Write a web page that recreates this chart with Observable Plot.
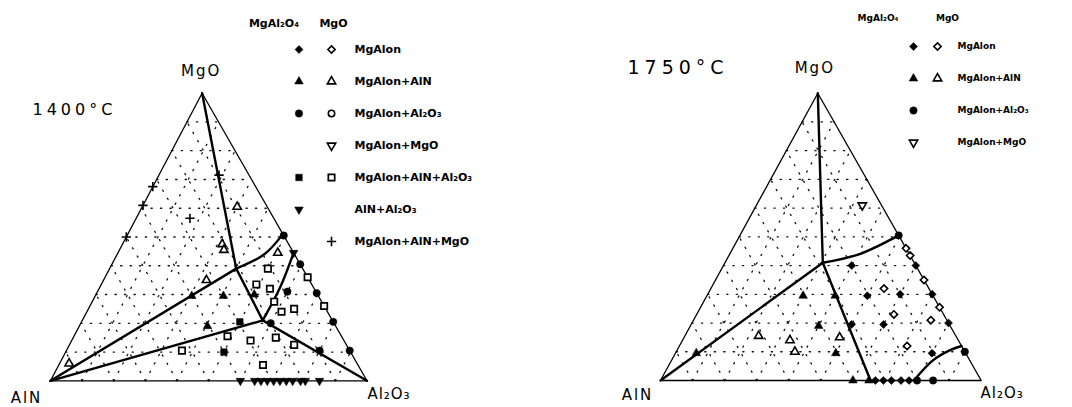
<!DOCTYPE html>
<html><head><meta charset="utf-8">
<script src="https://cdn.jsdelivr.net/npm/d3@7"></script>
<script src="https://cdn.jsdelivr.net/npm/@observablehq/plot@0.6"></script>
<style>
body{margin:0;background:#fff}
#fig{position:relative;width:1072px;height:407px;background:#fff;overflow:hidden}
#fig svg{position:absolute;left:0;top:0;background:transparent}
</style></head><body><div id="fig"></div>
<script>
// All compositions are [Al2O3 %, MgO %]; AlN is the remainder (100 - Al2O3 - MgO).
const gridSteps = [10, 20, 30, 40, 50, 60, 70, 80, 90];
const vertexNames = ["AlN", "Al₂O₃", "MgO"];

// ---------- 1400 °C ----------
const L_title = "1400°C";
const L_lines = [
  [[0, 100], [40, 39]],
  [[40, 39], [46.5, 44], [49, 51]],
  [[40, 39], [0, 0]],
  [[40, 39], [57, 21]],
  [[57, 21], [0, 0]],
  [[57, 21], [100, 0]],
  [[57, 21], [57, 32.5], [55.5, 44.5]]
];
const L_plus = [[0, 67.5], [0, 61], [0, 50], [17, 56.5], [19, 71.5]];
const L_triOpen = [[30, 60.5], [31.5, 47.5], [33, 45.5], [32.5, 35], [3, 6], [50.5, 44.5]];
const L_triFilled = [[30.5, 29.5], [40.5, 29.5], [40.5, 19], [50, 30]];
const L_sqOpen = [[50, 39], [49, 33.5], [54, 32], [57.5, 27.5], [61.5, 24], [65, 25], [48.5, 15.5], [56.5, 14], [64, 15], [71, 12.5], [36.5, 10.5], [64.5, 5.5], [64, 36], [74, 26]];
const L_sqFilled = [[50, 20.5], [50, 10]];
const L_circFilled = [[49.5, 50.5], [59.5, 40.5], [69.5, 30.5], [79.5, 20.5], [89.5, 10.5], [60, 31], [60, 20], [80, 10.5]];
const L_invFilled = [[55.5, 44.5], [60, 0], [64.5, 0], [66.5, 0], [68.5, 0], [70.5, 0], [72.5, 0], [74.5, 0], [76.5, 0], [79, 0], [80.5, 0], [85, 0]];

// ---------- 1750 °C ----------
const R_title = "1750°C";
const R_lines = [
  [[0, 100], [30.5, 41]],
  [[30.5, 41], [40.5, 44], [49.5, 50.5]],
  [[30.5, 41], [0, 0]],
  [[30.5, 41], [65.5, 0]],
  [[79, 0], [81.5, 7], [85, 10.5], [88, 12]]
];
const R_diaFilled = [[40, 40], [50, 29.5], [60, 30], [50, 19.5], [60, 19.5], [80, 9.5], [60, 40], [70, 30], [80, 20], [67, 0], [69.5, 0], [72, 0], [75, 0], [77.5, 0]];
const R_diaOpen = [[54, 32], [61.5, 23], [71, 12], [74, 21], [54, 46], [56.5, 43.5], [65, 35], [74.5, 25.5]];
const R_triFilled = [[30, 29.5], [40, 29.5], [40, 19], [50, 9.5], [6.5, 9.5], [60, 0], [65, 0]];
const R_triOpen = [[23, 15.5], [33.5, 14], [37, 10], [48.5, 15]];
const R_circFilled = [[49.5, 50.5], [90, 10], [80, 0], [85, 0]];
const R_invOpen = [[33, 61]];

// ---------- legends ----------
const legendHeaders = ["MgAl₂O₄", "MgO"];
const L_legend = [
  {label: "MgAlon", f: "diaF", o: "diaO"},
  {label: "MgAlon+AlN", f: "triF", o: "triO"},
  {label: "MgAlon+Al₂O₃", f: "circF", o: "circO"},
  {label: "MgAlon+MgO", f: null, o: "invO"},
  {label: "MgAlon+AlN+Al₂O₃", f: "sqF", o: "sqO"},
  {label: "AlN+Al₂O₃", f: "invF", o: null},
  {label: "MgAlon+AlN+MgO", f: null, o: "plus"}
];
const R_legend = [
  {label: "MgAlon", f: "diaF", o: "diaO"},
  {label: "MgAlon+AlN", f: "triF", o: "triO"},
  {label: "MgAlon+Al₂O₃", f: "circF", o: null},
  {label: "MgAlon+MgO", f: "invO", o: null}
];

// ---------- symbols ----------
const invTri = {draw(ctx, size) {
  const y = -Math.sqrt(size / (Math.sqrt(3) * 3)), s3 = Math.sqrt(3);
  ctx.moveTo(0, -2 * y); ctx.lineTo(-s3 * y, y); ctx.lineTo(s3 * y, y); ctx.closePath();
}};
const rhombus = {draw(ctx, size) {
  const d = Math.sqrt(size / 2);
  ctx.moveTo(0, -d); ctx.lineTo(d, 0); ctx.lineTo(0, d); ctx.lineTo(-d, 0); ctx.closePath();
}};
const sty = {
  diaF: {symbol: rhombus, fill: "black", stroke: "black", strokeWidth: 0.5, r: 3.2},
  diaO: {symbol: rhombus, fill: "white", stroke: "black", strokeWidth: 1.6, r: 2.9},
  triF: {symbol: "triangle", fill: "black", stroke: "black", strokeWidth: 0.5, r: 3.2},
  triO: {symbol: "triangle", fill: "white", stroke: "black", strokeWidth: 1.6, r: 3.1},
  circF: {symbol: "circle", fill: "black", stroke: "black", strokeWidth: 0.5, r: 3.7},
  circO: {symbol: "circle", fill: "white", stroke: "black", strokeWidth: 1.6, r: 3.2},
  sqF: {symbol: "square", fill: "black", stroke: "black", strokeWidth: 0.5, r: 3.7},
  sqO: {symbol: "square", fill: "white", stroke: "black", strokeWidth: 1.7, r: 3.6},
  invF: {symbol: invTri, fill: "black", stroke: "black", strokeWidth: 0.5, r: 3.2},
  invO: {symbol: invTri, fill: "white", stroke: "black", strokeWidth: 1.6, r: 3.1},
  plus: {symbol: "plus", fill: "none", stroke: "black", strokeWidth: 1.6, r: 3.1}
};

const FONT = "DejaVu Sans, Verdana, sans-serif";
const spacing = {"1400°C": "4px", "1750°C": "5px", "MgO": "2px", "AlN": "2px", "Al₂O₃": "1px"};

function toXY(p, skew) { return {x: p[0] / 100 + (p[1] / 100) * skew, y: p[1] / 100}; }

function panel(o) {
  const sk = o.skew;
  const grid = [];
  gridSteps.forEach((k, i) => {
    [[[0, k], [100 - k, k]], [[k, 0], [k, 100 - k]], [[100 - k, 0], [0, 100 - k]]]
      .forEach((seg, j) => seg.forEach(p => grid.push({...toXY(p, sk), z: i * 3 + j})));
  });
  const edge = [[0, 0], [100, 0], [0, 100], [0, 0]].map(p => toXY(p, sk));
  const bounds = [];
  o.lines.forEach((ln, i) => ln.forEach(p => bounds.push({...toXY(p, sk), z: i})));
  const vtx = [[0, 0], [100, 0], [0, 100]].map((p, i) => ({...toXY(p, sk), name: vertexNames[i]}));
  const marks = [
    Plot.line(grid, {x: "x", y: "y", z: "z", stroke: "#111", strokeWidth: 1.3, strokeDasharray: "1.3 8.2"}),
    Plot.line(edge, {x: "x", y: "y", stroke: "black", strokeWidth: 1.3}),
    Plot.line(bounds, {x: "x", y: "y", z: "z", stroke: "black", strokeWidth: 2.4, curve: "catmull-rom"})
  ];
  o.points.forEach(([arr, key]) => {
    marks.push(Plot.dot(arr.map(p => toXY(p, sk)), {x: "x", y: "y", ...sty[key]}));
  });
  o.vlabels.forEach(([i, dx, dy]) => {
    marks.push(Plot.text([vtx[i]], {x: "x", y: "y", text: "name", dx, dy, fontSize: o.vsize, fontFamily: FONT, fill: "black"}));
  });
  marks.push(Plot.text([o.title], {frameAnchor: "top-left", textAnchor: "start", lineAnchor: "middle", dx: o.tdx, dy: o.tdy, fontSize: o.tsize, fontFamily: FONT, fill: "black"}));
  const svg = Plot.plot({
    width: 1072, height: 407,
    marginLeft: o.m[0], marginRight: 1072 - o.m[1], marginTop: o.m[2], marginBottom: 407 - o.m[3],
    x: {domain: [0, 1], axis: null}, y: {domain: [0, 1], axis: null},
    style: {background: "transparent", overflow: "visible"},
    marks
  });
  d3.select(svg).selectAll("text").each(function() {
    const ls = spacing[this.textContent];
    if (ls) this.style.letterSpacing = ls;
  });
  return svg;
}

function legend(o) {
  const rowsDomain = o.rows.map(r => r.label);
  const marks = [];
  Object.keys(sty).forEach(key => {
    const f = o.rows.filter(r => r.f === key), op = o.rows.filter(r => r.o === key);
    if (f.length) marks.push(Plot.dot(f, {x: () => 0, y: "label", ...sty[key]}));
    if (op.length) marks.push(Plot.dot(op, {x: () => 1, y: "label", ...sty[key]}));
  });
  marks.push(Plot.text(o.rows, {x: () => 1, y: "label", text: "label", textAnchor: "start", dx: o.ldx, fontSize: o.fs, fontWeight: "bold", fontFamily: FONT, fill: "black"}));
  marks.push(Plot.text([o.rows[0]], {x: () => 0, y: "label", text: () => legendHeaders[0], textAnchor: "end", dx: o.h0dx, dy: o.hdy, fontSize: o.fs, fontWeight: "bold", fontFamily: FONT, fill: "black"}));
  marks.push(Plot.text([o.rows[0]], {x: () => 1, y: "label", text: () => legendHeaders[1], textAnchor: "middle", dx: o.h1dx, dy: o.hdy, fontSize: o.fs, fontWeight: "bold", fontFamily: FONT, fill: "black"}));
  return Plot.plot({
    width: 1072, height: 407,
    marginLeft: o.c[0], marginRight: 1072 - o.c[1], marginTop: o.r[0], marginBottom: 407 - o.r[1],
    x: {domain: [0, 1], axis: null},
    y: {type: "point", domain: rowsDomain, axis: null, padding: 0},
    style: {background: "transparent", overflow: "visible"},
    marks
  });
}

const fig = document.getElementById("fig");
[
  panel({skew: 0.479, m: [50, 366.5, 92.7, 380.3], lines: L_lines,
    points: [[L_invFilled, "invF"], [L_sqOpen, "sqO"], [L_sqFilled, "sqF"], [L_circFilled, "circF"], [L_triFilled, "triF"], [L_triOpen, "triO"], [L_plus, "plus"]],
    vlabels: [[0, -24, 17], [1, 22, 13], [2, -1, -22]], vsize: 15,
    title: L_title, tdx: -18, tdy: 16.5, tsize: 16}),
  panel({skew: 0.4905, m: [660, 980.7, 92.7, 380], lines: R_lines,
    points: [[R_diaFilled, "diaF"], [R_diaOpen, "diaO"], [R_triFilled, "triF"], [R_triOpen, "triO"], [R_circFilled, "circF"], [R_invOpen, "invO"]],
    vlabels: [[0, -23, 15], [1, 21, 13], [2, -3, -25]], vsize: 15,
    title: R_title, tdx: -33, tdy: -25.5, tsize: 19}),
  legend({rows: L_legend, c: [298.5, 331], r: [46.7, 242.7], fs: 11, ldx: 23, h0dx: 0, h1dx: 2, hdy: -26}),
  legend({rows: R_legend, c: [913, 937], r: [44.5, 143], fs: 9, ldx: 20, h0dx: -15, h1dx: 10, hdy: -28})
].forEach(svg => fig.appendChild(svg));
</script></body></html>
